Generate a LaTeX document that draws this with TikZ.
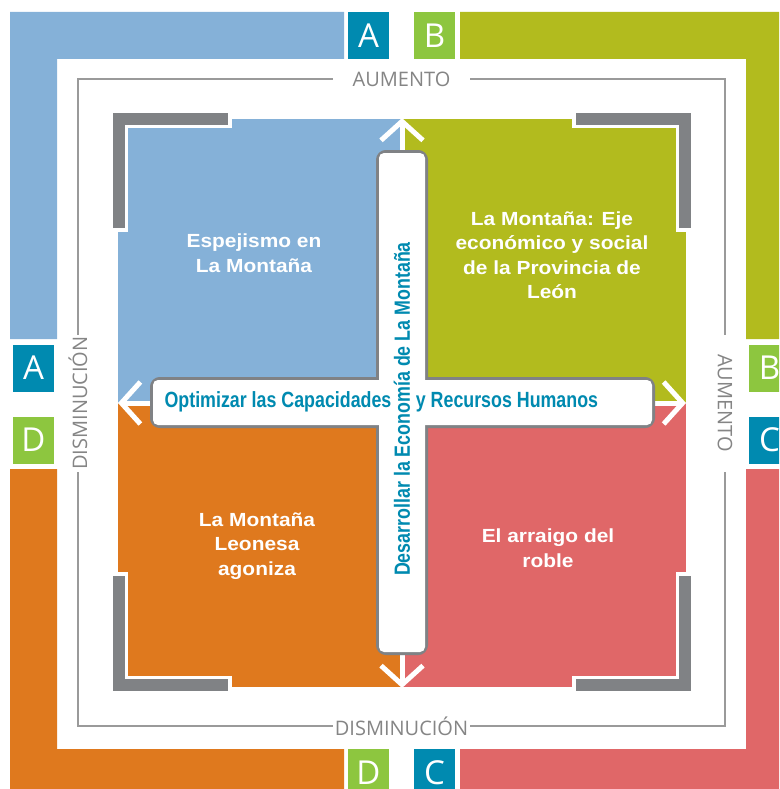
\documentclass[tikz,border=0pt]{standalone}
\usepackage{fontspec}
\setmainfont{Liberation Sans}
\newfontfamily\lightfont{Open Sans}
\newfontfamily\widefont[FakeStretch=1.1]{Liberation Sans}
\newfontfamily\narrowfont[FakeStretch=0.81]{Liberation Sans}
\usetikzlibrary{arrows.meta,shadows}
\definecolor{qblue}{HTML}{85B1D8}
\definecolor{qolive}{HTML}{B2BB1E}
\definecolor{qorange}{HTML}{DF791E}
\definecolor{qred}{HTML}{E06768}
\definecolor{lteal}{HTML}{008AB0}
\definecolor{lgreen}{HTML}{8DC63F}
\definecolor{brgray}{HTML}{808285}
\definecolor{framegray}{HTML}{9A9A9A}
\definecolor{labgray}{HTML}{858585}
\begin{document}
\begin{tikzpicture}[x=1pt,y=-1pt,line join=miter,
  letter/.style={fill=#1,text=white,minimum width=41pt,minimum height=47pt,inner sep=0pt,font=\lightfont\fontsize{33}{33}\selectfont},
  axislabel/.style={fill=white,text=labgray,minimum width=137pt,minimum height=20pt,inner sep=0pt,font=\lightfont\fontsize{20}{20}\selectfont},
  quadtext/.style={text=white,align=center,font=\widefont\bfseries\fontsize{19}{24.5}\selectfont},
  bartext/.style={text=lteal,inner sep=0pt,font=\narrowfont\bfseries\fontsize{22}{22}\selectfont},
  barbox/.style={draw=brgray,line width=6pt,fill=white,rounded corners=7pt},
  axis/.style={draw=white,line width=5pt,{Straight Barb[length=19pt,width=42pt]}-{Straight Barb[length=19pt,width=42pt]}}]
\useasboundingbox (0,0) rectangle (779,789);
\clip (0,0) rectangle (779,789);
% outer frame
\fill[qblue] (10,12) -- (344,12) -- (344,59) -- (57,59) -- (57,339) -- (10,339) -- cycle;
\fill[qolive] (460,12) -- (800,12) -- (800,339) -- (746,339) -- (746,59) -- (460,59) -- cycle;
\fill[qorange] (10,469) -- (57,469) -- (57,749) -- (344,749) -- (344,800) -- (10,800) -- cycle;
\fill[qred] (460,749) -- (746,749) -- (746,469) -- (800,469) -- (800,800) -- (460,800) -- cycle;
\node[letter=lteal] (aTop) at (368.5,35.5) {A};
\node[letter=lgreen] (bTop) at (434.5,35.5) {B};
\node[letter=lteal] (aLeft) at (33.5,368) {A};
\node[letter=lgreen] (dLeft) at (33.5,440) {D};
\node[letter=lgreen] (bRight) at (769.5,368) {B};
\node[letter=lteal] (cRight) at (769.5,440) {C};
\node[letter=lgreen] (dBottom) at (368.5,772.5) {D};
\node[letter=lteal] (cBottom) at (434.5,772.5) {C};
% thin frame and its labels
\draw[framegray,line width=1.2pt] (78,79) rectangle (725,726);
\node[axislabel] (aumTop) at (401.5,79) {AUMENTO};
\node[axislabel] (disBottom) at (401.5,726) {DISMINUCIÓN};
\node[axislabel,rotate=90] (disLeft) at (78,403) {DISMINUCIÓN};
\node[axislabel,rotate=-90] (aumRight) at (725,403) {AUMENTO};
% quadrants
\fill[qblue] (118,119) rectangle (402,403);
\fill[qolive] (402,119) rectangle (686,403);
\fill[qorange] (118,403) rectangle (402,687);
\fill[qred] (402,403) rectangle (686,687);
\foreach \px/\py/\sx/\sy in {119/119/1/1,685/119/-1/1,119/685/1/-1,685/685/-1/-1}{
  \draw[white,line width=18pt] (\px,\py+\sy*113) -- (\px,\py) -- (\px+\sx*113,\py);
  \draw[brgray,line width=12pt] (\px,\py+\sy*109) -- (\px,\py) -- (\px+\sx*109,\py);
}
\coordinate (upTip) at (402,118);
\coordinate (downTip) at (402,688);
\coordinate (leftTip) at (118,403);
\coordinate (rightTip) at (686,403);
\draw[axis] (downTip) -- (upTip);
\draw[axis] (leftTip) -- (rightTip);
\node[quadtext] (espejismo) at (254,253) {Espejismo en\\La Montaña};
\node[quadtext] (eje) at (552,255) {La Montaña: Eje\\económico y social\\de la Provincia de\\León};
\node[quadtext] (agoniza) at (257,546) {La Montaña\\Leonesa\\agoniza};
\node[quadtext] (arraigo) at (548,548) {El arraigo del\\roble};
% central cross
\draw[barbox,drop shadow={opacity=0.35,shadow xshift=1pt,shadow yshift=-3pt}] (153,380) rectangle (652,425);
\draw[barbox,drop shadow={opacity=0.35,shadow xshift=1pt,shadow yshift=-3pt}] (379,153) rectangle (425,652);
\fill[white,rounded corners=5pt] (153,380) rectangle (652,425);
\fill[white,rounded corners=5pt] (379,153) rectangle (425,652);
\node[bartext] (optimizar) at (278,402) {Optimizar las Capacidades};
\node[bartext] (recursos) at (507,402) {y Recursos Humanos};
\node[bartext,rotate=90] (desarrollar) at (402,409) {Desarrollar la Economía de La Montaña};
\end{tikzpicture}
\end{document}
